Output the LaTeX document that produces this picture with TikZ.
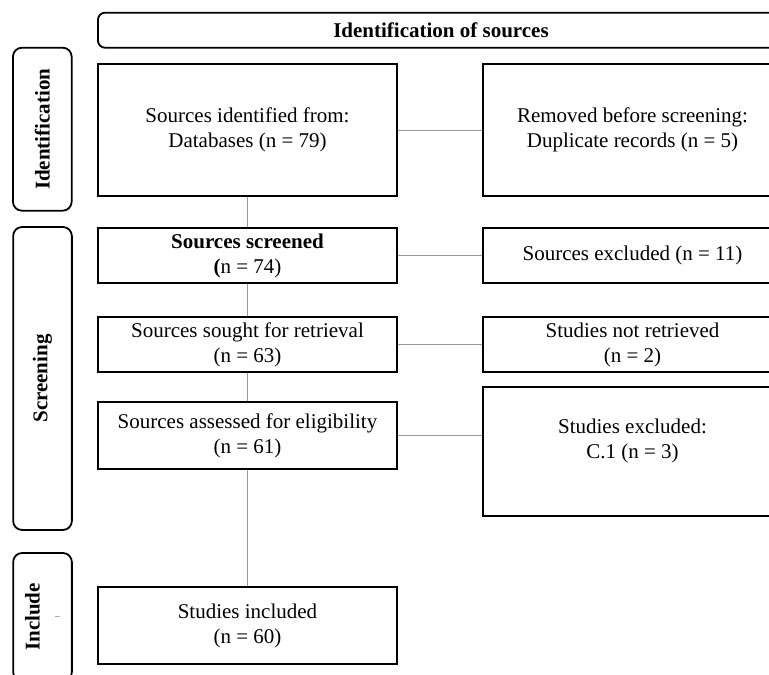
\documentclass[tikz,border=0pt]{standalone}
\usepackage{fontspec}
\setmainfont{Liberation Serif}
\begin{document}
\begin{tikzpicture}[x=1pt,y=1pt,
    box/.style={draw,line width=1.8pt,rectangle,align=center,minimum width=299pt,font=\fontsize{21}{25}\selectfont},
    phase/.style={draw,line width=1.8pt,rounded corners=9pt,align=center,rotate=90,minimum height=58.7pt,font=\bfseries\fontsize{21}{25}\selectfont},
    link/.style={draw=black!40,line width=0.9pt}]
    \useasboundingbox (0,0) rectangle (769,675);
    \clip (0,0) rectangle (769,675);
    \node[draw,line width=1.8pt,rounded corners=7pt,minimum width=686pt,minimum height=35pt,font=\bfseries\fontsize{21}{25}\selectfont] (head) at (441,644.8) {Identification of sources};
    \node[phase,minimum width=163pt] (idph) at (42.3,545.8) {Identification};
    \node[phase,minimum width=303pt] (scph) at (42.5,296.5) {Screening};
    \node[phase,minimum width=128pt] (inph) at (42.5,58) {Include\\[-6pt]{\tiny |}};
    \node[box,minimum height=132pt] (src) at (247.5,545) {Sources identified from:\\Databases (n = 79)};
    \node[box,minimum height=132pt] (dup) at (632.5,545) {Removed before screening:\\Duplicate records (n = 5)};
    \node[box,minimum height=55pt] (scr) at (247.5,419.5) {\textbf{Sources screened}\\\textbf{(}n = 74)};
    \node[box,minimum height=55pt] (exc1) at (632.5,419.5) {Sources excluded (n = 11)};
    \node[box,minimum height=55pt] (sgt) at (247.5,330.5) {Sources sought for retrieval\\(n = 63)};
    \node[box,minimum height=55pt] (exc2) at (632.5,330.5) {Studies not retrieved\\(n = 2)};
    \node[box,minimum height=67pt] (elg) at (247.5,239.5) {Sources assessed for eligibility\\(n = 61)};
    \node[box,minimum height=129pt] (exc3) at (632.5,223.5) {};
    \node[align=center,font=\fontsize{21}{25}\selectfont] (exc3txt) at (632.5,234) {Studies excluded:\\C.1 (n = 3)};
    \node[box,minimum height=77pt] (inc) at (247.5,49.5) {Studies included\\(n = 60)};
    \draw[link] (src)--(scr);
    \draw[link] (scr)--(sgt);
    \draw[link] (sgt)--(elg);
    \draw[link] (elg)--(inc);
    \draw[link] (src)--(dup);
    \draw[link] (scr)--(exc1);
    \draw[link] (sgt)--(exc2);
    \draw[link] (elg.east)--(elg.east-|exc3.west);
\end{tikzpicture}
\end{document}
